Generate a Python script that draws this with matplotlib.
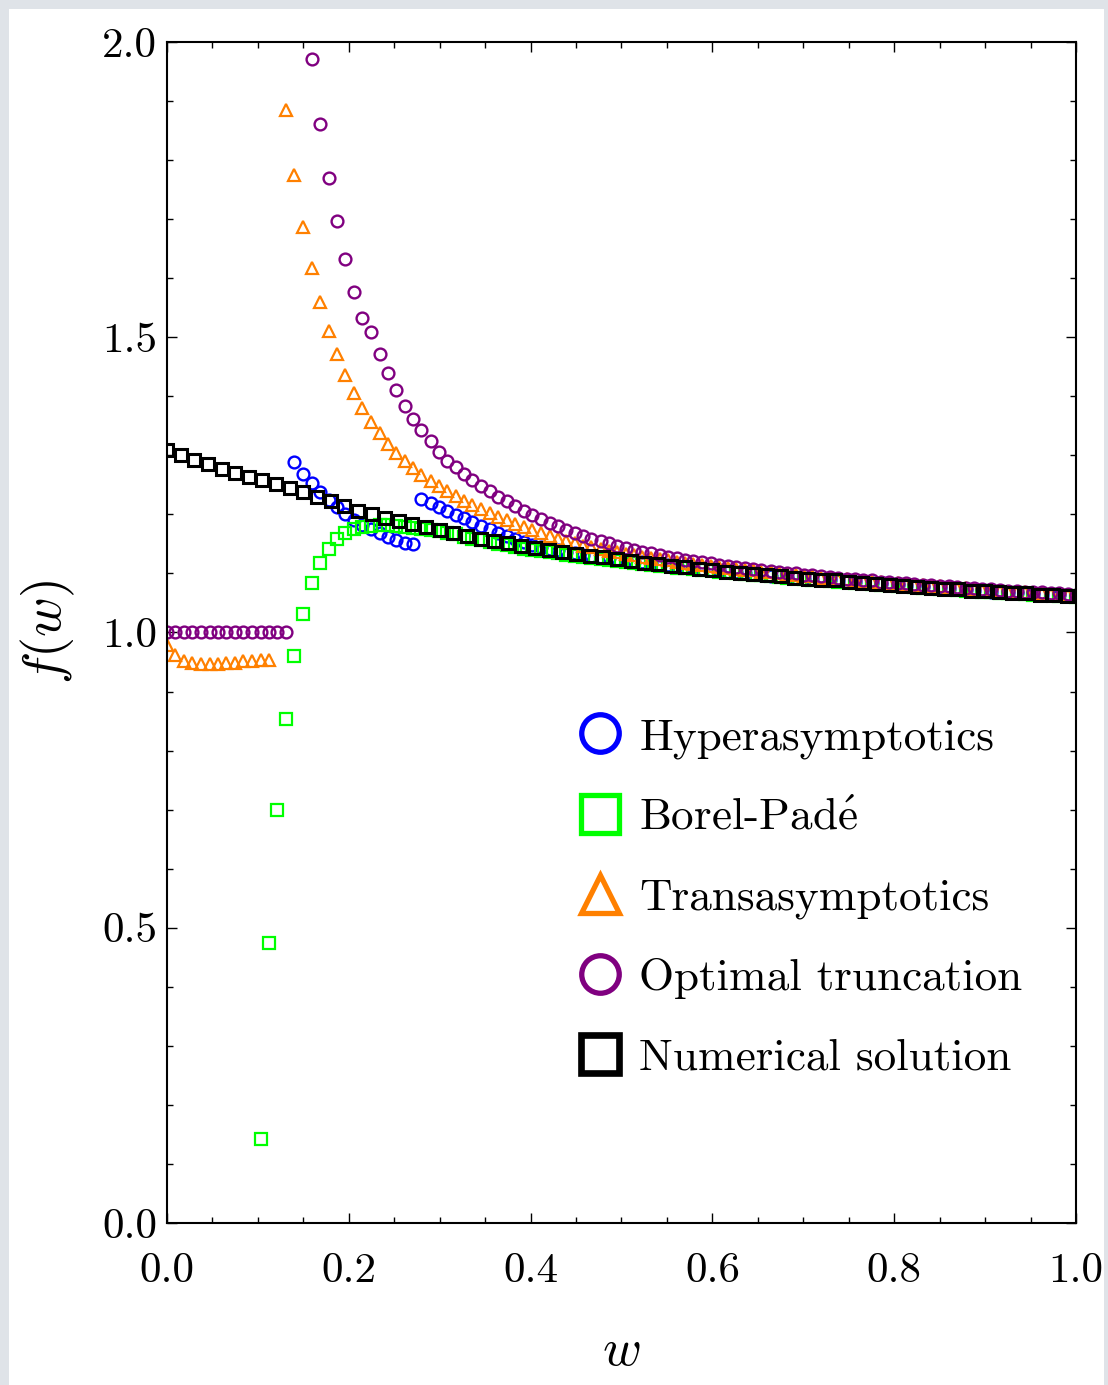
import matplotlib

matplotlib.use("Agg")

import matplotlib.pyplot as plt
import numpy as np
from matplotlib.lines import Line2D
from matplotlib.patches import Rectangle
from matplotlib.ticker import FormatStrFormatter, MultipleLocator


# fine grid (k / 107) used by the four approximations
W_FINE = [
    0.000, 0.009, 0.019, 0.028, 0.037, 0.047, 0.056, 0.065, 0.075, 0.084,
    0.093, 0.103, 0.112, 0.121, 0.131, 0.140, 0.150, 0.159, 0.168, 0.178,
    0.187, 0.196, 0.206, 0.215, 0.224, 0.234, 0.243, 0.252, 0.262, 0.271,
    0.280, 0.290, 0.299, 0.308, 0.318, 0.327, 0.336, 0.346, 0.355, 0.364,
    0.374, 0.383, 0.393, 0.402, 0.411, 0.421, 0.430, 0.439, 0.449, 0.458,
    0.467, 0.477, 0.486, 0.495, 0.505, 0.514, 0.523, 0.533, 0.542, 0.551,
    0.561, 0.570, 0.579, 0.589, 0.598, 0.607, 0.617, 0.626, 0.636, 0.645,
    0.654, 0.664, 0.673, 0.682, 0.692, 0.701, 0.710, 0.720, 0.729, 0.738,
    0.748, 0.757, 0.766, 0.776, 0.785, 0.794, 0.804, 0.813, 0.822, 0.832,
    0.841, 0.850, 0.860, 0.869, 0.879, 0.888, 0.897, 0.907, 0.916, 0.925,
    0.935, 0.944, 0.953, 0.963, 0.972, 0.981, 0.991, 1.000,
]

# hyperasymptotics, starts at W_FINE[15]
HYPER_START = 15
HYPER_F = [
    1.288, 1.268, 1.253, 1.238, 1.224, 1.212, 1.200, 1.191, 1.182, 1.175,
    1.168, 1.162, 1.157, 1.152, 1.150,
    1.226, 1.219, 1.212, 1.206, 1.199, 1.193, 1.187, 1.181, 1.175, 1.169,
    1.163, 1.158, 1.153,
    1.148, 1.145, 1.142, 1.139, 1.137, 1.134, 1.132, 1.130, 1.128, 1.126,
    1.124, 1.122, 1.120, 1.119, 1.117, 1.115, 1.114, 1.112, 1.111, 1.109,
    1.108, 1.106, 1.105, 1.103, 1.102, 1.100, 1.099, 1.098, 1.096, 1.095,
    1.094, 1.093, 1.091, 1.090, 1.089, 1.088, 1.087, 1.086, 1.085, 1.084,
    1.083, 1.082, 1.081, 1.080, 1.079, 1.078, 1.077, 1.076, 1.075, 1.074,
    1.073, 1.072, 1.071, 1.070, 1.069, 1.068, 1.067, 1.067, 1.066, 1.065,
    1.064, 1.064, 1.063, 1.062, 1.061,
]

# Borel-Pade, starts at W_FINE[11]
BOREL_START = 11
BOREL_F = [
    0.142, 0.474, 0.700, 0.854, 0.960, 1.032, 1.084, 1.118, 1.142, 1.158,
    1.168, 1.175, 1.178, 1.181, 1.182, 1.182, 1.181, 1.179, 1.177, 1.175,
    1.173, 1.171, 1.168,
    1.166, 1.162, 1.159, 1.156, 1.153, 1.150, 1.148, 1.145, 1.142, 1.140,
    1.138, 1.136, 1.134, 1.132, 1.130, 1.128, 1.126, 1.124, 1.123, 1.121,
    1.120, 1.118, 1.116, 1.115, 1.113, 1.112, 1.110, 1.109, 1.107, 1.106,
    1.105, 1.103, 1.102, 1.100,
    1.099, 1.098, 1.097, 1.095, 1.094, 1.093, 1.092, 1.090, 1.089, 1.088,
    1.087, 1.086, 1.085, 1.084, 1.083, 1.082, 1.081, 1.080, 1.079, 1.078,
    1.077, 1.076, 1.075, 1.074, 1.073, 1.072, 1.071, 1.070, 1.069, 1.068,
    1.067, 1.066, 1.066, 1.065, 1.064, 1.063, 1.063, 1.062, 1.061, 1.060,
]

# transasymptotics on the whole fine grid (nan = outside the plotted range)
TRANS_F = [
    0.979, 0.962, 0.952, 0.948, 0.947, 0.947, 0.947, 0.948, 0.949, 0.951,
    0.952, 0.953, 0.953,
    np.nan,
    1.885, 1.774, 1.686, 1.617, 1.559, 1.511, 1.472, 1.436, 1.406, 1.380,
    1.357, 1.337, 1.319, 1.304, 1.290, 1.278, 1.267,
    1.257, 1.248, 1.239, 1.231, 1.223, 1.216, 1.209, 1.202, 1.196, 1.190,
    1.184, 1.179, 1.174, 1.169, 1.164,
    1.159, 1.155, 1.151, 1.147, 1.144, 1.141, 1.138, 1.136, 1.133, 1.131,
    1.128, 1.126, 1.124, 1.122, 1.120, 1.118, 1.116, 1.115, 1.113, 1.111,
    1.110, 1.108, 1.106, 1.105, 1.103, 1.102, 1.100, 1.099, 1.097, 1.096,
    1.095, 1.093, 1.092, 1.091, 1.090, 1.088, 1.087, 1.086, 1.085, 1.084,
    1.083, 1.082, 1.081, 1.080, 1.079, 1.078, 1.077, 1.076, 1.075, 1.074,
    1.072, 1.071, 1.070, 1.069, 1.069, 1.068, 1.067, 1.066, 1.065, 1.064,
    1.063, 1.062,
]

# optimal truncation on the whole fine grid
OPTIMAL_F = [
    1.0, 1.0, 1.0, 1.0, 1.0, 1.0, 1.0, 1.0, 1.0, 1.0,
    1.0, 1.0, 1.0, 1.0, 1.0,
    np.nan, np.nan,
    1.971, 1.861, 1.769, 1.696, 1.632, 1.577, 1.532, 1.509, 1.471, 1.440,
    1.410, 1.384, 1.361, 1.343, 1.325, 1.306, 1.291, 1.280, 1.268, 1.258,
    1.248, 1.239, 1.230, 1.222, 1.214, 1.206, 1.199, 1.192, 1.186, 1.180,
    1.174, 1.169, 1.164, 1.159, 1.155, 1.151, 1.147, 1.143, 1.140, 1.137,
    1.134, 1.131, 1.128, 1.126, 1.123, 1.121, 1.119, 1.117, 1.115, 1.113,
    1.111, 1.109, 1.108, 1.106, 1.104, 1.103, 1.101, 1.100, 1.098, 1.097,
    1.095, 1.094, 1.093, 1.091, 1.090, 1.089, 1.088, 1.086, 1.085, 1.084,
    1.083, 1.082, 1.081, 1.080, 1.079, 1.078, 1.077, 1.076, 1.075, 1.074,
    1.073, 1.072, 1.071, 1.070, 1.069, 1.068, 1.068, 1.067, 1.066, 1.065,
    1.064,
]

# numerical solution on its own coarser grid
W_NUM = [
    0.000, 0.015, 0.030, 0.045, 0.060, 0.075, 0.090, 0.105, 0.120, 0.135,
    0.150, 0.165, 0.180, 0.195, 0.210, 0.225, 0.240, 0.255, 0.270, 0.285,
    0.300, 0.315, 0.330, 0.345, 0.360, 0.375, 0.390, 0.405, 0.420, 0.435,
    0.450, 0.465, 0.480, 0.495, 0.510, 0.525, 0.540, 0.555, 0.570, 0.585,
    0.600, 0.615, 0.630, 0.645, 0.660, 0.675, 0.690, 0.705, 0.720, 0.735,
    0.750, 0.765, 0.780, 0.795, 0.810, 0.825, 0.840, 0.855, 0.870, 0.885,
    0.900, 0.915, 0.930, 0.945, 0.960, 0.975, 0.990,
]
NUM_F = [
    1.309, 1.300, 1.292, 1.285, 1.277, 1.270, 1.264, 1.258, 1.252, 1.245,
    1.238, 1.230, 1.222, 1.214, 1.206, 1.200, 1.194, 1.189, 1.183, 1.178,
    1.173, 1.168, 1.164, 1.159, 1.155, 1.151, 1.147, 1.143, 1.140, 1.136,
    1.133, 1.130, 1.127, 1.124, 1.121, 1.118, 1.116, 1.113, 1.111, 1.108,
    1.106, 1.103, 1.101, 1.099, 1.097, 1.095, 1.093, 1.091, 1.089, 1.088,
    1.086, 1.084, 1.082, 1.081, 1.079, 1.077, 1.076, 1.074, 1.073, 1.071,
    1.070, 1.068, 1.067, 1.066, 1.064, 1.063, 1.062,
]

LABELS = [
    "Hyperasymptotics",
    r"Borel-Pad$\acute{\mathrm{e}}$",
    "Transasymptotics",
    "Optimal truncation",
    "Numerical solution",
]
COLORS = ["#0000ff", "#00ff00", "#ff8000", "#800080", "#000000"]
MARKERS = ["o", "s", "^", "o", "s"]

FRAME_COLOR = "#dfe3e8"


def setup_style() -> None:
    plt.rcParams.update(
        {
            "font.family": ["cmr10", "DejaVu Serif"],
            "mathtext.fontset": "cm",
            "axes.formatter.use_mathtext": True,
            "axes.linewidth": 1.5,
            "xtick.direction": "in",
            "ytick.direction": "in",
        }
    )


def series():
    fine = W_FINE
    return [
        (fine[HYPER_START:HYPER_START + len(HYPER_F)], HYPER_F),
        (fine[BOREL_START:BOREL_START + len(BOREL_F)], BOREL_F),
        (fine[:len(TRANS_F)], TRANS_F),
        (fine[:len(OPTIMAL_F)], OPTIMAL_F),
        (W_NUM, NUM_F),
    ]


def main() -> None:
    setup_style()
    fig = plt.figure(figsize=(11.08, 13.85), dpi=100)
    fig.patch.set_facecolor(FRAME_COLOR)
    fig.patches.append(
        Rectangle((9 / 1108, 0), 1 - 13 / 1108, 1 - 9 / 1385,
                  transform=fig.transFigure, facecolor="white",
                  edgecolor="none", zorder=-10)
    )
    ax = fig.add_axes([0.1507, 0.1170, 0.8204, 0.8527])

    sizes = [8.5, 8.5, 8.5, 8.5, 8.5]
    widths = [1.7, 1.6, 1.6, 1.7, 2.2]
    for (w, f), color, marker, ms, mew in zip(series(), COLORS, MARKERS, sizes, widths):
        ax.plot(w, f, ls="none", marker=marker, ms=ms, mew=mew,
                mfc="none", mec=color)

    ax.set_xlim(0, 1)
    ax.set_ylim(0, 2)
    ax.xaxis.set_major_locator(MultipleLocator(0.2))
    ax.xaxis.set_minor_locator(MultipleLocator(0.05))
    ax.yaxis.set_major_locator(MultipleLocator(0.5))
    ax.yaxis.set_minor_locator(MultipleLocator(0.1))
    ax.xaxis.set_major_formatter(FormatStrFormatter("%.1f"))
    ax.yaxis.set_major_formatter(FormatStrFormatter("%.1f"))
    ax.tick_params(which="both", top=True, right=True, width=1.0)
    ax.tick_params(which="major", length=7, labelsize=31)
    ax.tick_params(axis="x", which="major", pad=21)
    ax.tick_params(axis="y", which="major", pad=7)
    ax.tick_params(which="minor", length=4)

    ax.set_xlabel(r"$w$", fontsize=38, labelpad=28)
    ax.set_ylabel(r"$f(w)$", fontsize=39, labelpad=18)

    handle_sizes = [27, 27, 28, 27, 27]
    handle_widths = [3.8, 3.8, 3.8, 3.8, 4.8]
    handles = [
        Line2D([], [], ls="none", marker=m, ms=s, mew=lw, mfc="none", mec=c)
        for m, s, lw, c in zip(MARKERS, handle_sizes, handle_widths, COLORS)
    ]
    ax.legend(
        handles,
        LABELS,
        loc="upper left",
        bbox_to_anchor=(0.451, 0.428),
        frameon=False,
        fontsize=32.5,
        handlelength=1.0,
        handletextpad=0.38,
        labelspacing=0.87,
        borderpad=0,
        borderaxespad=0,
    )

    fig.savefig("out.png", dpi=100, facecolor=fig.get_facecolor())


if __name__ == "__main__":
    main()
